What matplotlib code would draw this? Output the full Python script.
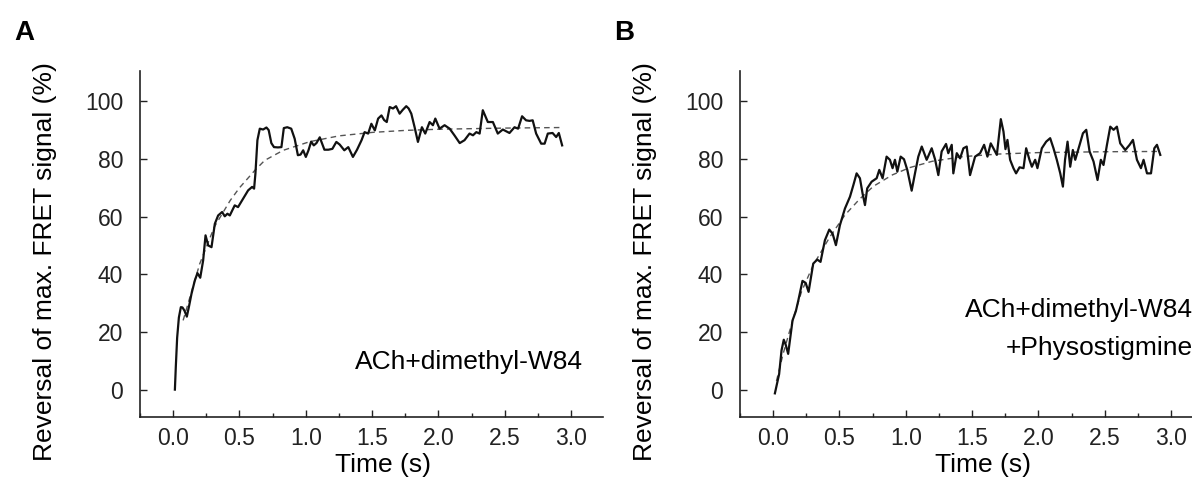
import matplotlib
matplotlib.use("Agg")
import matplotlib.pyplot as plt
from matplotlib.ticker import MultipleLocator

plt.rcParams['font.family'] = ['Liberation Sans', 'DejaVu Sans']

# panel A trace (time in s, signal in %)
a_time = [0.013, 0.02, 0.03, 0.043, 0.058, 0.07, 0.085, 0.103, 0.12, 0.138, 0.163, 0.183, 0.204, 0.226,
          0.244, 0.264, 0.289, 0.314, 0.339, 0.369, 0.389, 0.409, 0.427, 0.464, 0.489, 0.527, 0.565, 0.595,
          0.61, 0.62, 0.635, 0.653, 0.678, 0.703, 0.72, 0.74, 0.76, 0.79, 0.816, 0.834, 0.86, 0.89, 0.916,
          0.94, 0.96, 0.98, 1.0, 1.02, 1.04, 1.06, 1.08, 1.105, 1.14, 1.17, 1.2, 1.23, 1.255, 1.29, 1.32,
          1.355, 1.386, 1.42, 1.443, 1.47, 1.494, 1.52, 1.545, 1.57, 1.59, 1.61, 1.632, 1.657, 1.68, 1.707,
          1.73, 1.757, 1.775, 1.795, 1.82, 1.845, 1.875, 1.9, 1.933, 1.958, 1.976, 2.008, 2.046, 2.084,
          2.12, 2.16, 2.196, 2.234, 2.26, 2.285, 2.31, 2.334, 2.372, 2.41, 2.447, 2.485, 2.535, 2.573, 2.6,
          2.63, 2.66, 2.686, 2.71, 2.736, 2.774, 2.8, 2.824, 2.86, 2.887, 2.907, 2.932]
a_signal = [0, 8, 18, 25, 28.6, 28.5, 27.4, 25.3, 29, 33.2, 37.8, 40.4, 38.8, 44.8,
            53.5, 50, 49.4, 57.5, 60.4, 61.6, 60.1, 61, 60.4, 63.9, 63.3, 66.2, 69.1, 70.3,
            69.7, 74.9, 86.5, 90.5, 90.2, 90.9, 90, 85.5, 84.1, 84, 84.1, 90.7, 91, 90.5, 87,
            81.3, 81.5, 83, 80.7, 83, 86, 84.7, 85.5, 87.5, 83.2, 83.2, 83.5, 85.9, 85, 83, 84.1,
            80.7, 83.2, 86.5, 89.3, 88.8, 92.2, 89.9, 94, 95.1, 93.5, 92.8, 98, 97.5, 98.3, 95.7,
            97, 98.3, 97.5, 95.7, 91, 85.9, 91, 88.8, 92.8, 91.7, 94, 90.5, 91.7, 90.5,
            88.2, 85.5, 86.5, 88.8, 88.2, 89.3, 88.8, 96.9, 92.8, 92.8, 88.8, 90.2, 89, 91, 90.5,
            94.8, 93.4, 93.2, 93.4, 88.8, 85.3, 85.3, 88.8, 89, 87.6, 89, 84.7]

# panel A fit (dashed)
a_fit_time = [0.075, 0.2, 0.31, 0.43, 0.5, 0.615, 0.69, 0.83, 1.03, 1.25, 1.5, 1.75, 2.0, 2.5, 2.94]
a_fit_signal = [24, 43.6, 56.4, 65.6, 70, 76, 79.5, 83, 86, 88, 89.2, 89.9, 90.3, 90.7, 90.9]

# panel B trace
b_time = [0.013, 0.045, 0.063, 0.08, 0.095, 0.113, 0.146, 0.171, 0.19, 0.221, 0.245, 0.267, 0.302, 0.332,
          0.357, 0.39, 0.423, 0.448, 0.473, 0.503, 0.541, 0.579, 0.605, 0.629, 0.654, 0.674, 0.692, 0.709,
          0.742, 0.78, 0.8, 0.825, 0.855, 0.88, 0.9, 0.918, 0.936, 0.961, 0.986, 1.011, 1.044, 1.069,
          1.094, 1.12, 1.157, 1.195, 1.22, 1.245, 1.27, 1.303, 1.32, 1.346, 1.358, 1.384, 1.409, 1.434,
          1.459, 1.484, 1.522, 1.56, 1.59, 1.615, 1.64, 1.66, 1.686, 1.716, 1.736, 1.751, 1.766, 1.786,
          1.811, 1.831, 1.857, 1.887, 1.907, 1.932, 1.95, 1.975, 1.992, 2.025, 2.058, 2.088, 2.113, 2.138,
          2.164, 2.184, 2.2, 2.219, 2.239, 2.259, 2.277, 2.31, 2.335, 2.36, 2.385, 2.415, 2.445, 2.47,
          2.49, 2.516, 2.541, 2.566, 2.591, 2.616, 2.654, 2.687, 2.712, 2.742, 2.772, 2.792, 2.818, 2.848,
          2.873, 2.893, 2.918]
b_signal = [-1.3, 5.4, 13.6, 17.3, 15.5, 12.4, 24, 27.2, 31, 37.7, 37, 33.9, 43.7, 45.1,
            44.3, 51.8, 55.5, 54.1, 50.1, 57, 62.8, 66.9, 71, 75, 73.3, 68, 64, 69.8,
            72.1, 73.3, 76.2, 73.3, 80.8, 79.7, 76.8, 79.7, 75.6, 80.8, 79.9, 76.2, 69, 75,
            80.8, 84.3, 79.7, 83.7, 79.9, 74.4, 82.6, 85.2, 82, 84.9, 75, 82, 80.2, 83.7,
            84.3, 74.4, 80.8, 82, 84.9, 80.8, 85.4, 83.7, 81.4, 93.8, 89.5, 83.4, 86.6, 79.7,
            76.8, 75, 77.1, 76.8, 83.7, 79.7, 77.3, 79.7, 76.8, 83.7, 86, 87.2, 83.7, 79.7,
            75, 70.4, 79.7, 86, 77.3, 83.1, 79.7, 84.9, 88.9, 90.1, 82.6, 79.1, 72.7, 79.7,
            77.9, 84.9, 91.2, 90.1, 91.2, 85.4, 83.1, 84.9, 86.6, 79.7, 76.8, 79.7, 75, 75,
            83.7, 84.9, 81.4]

# panel B fit (dashed)
b_fit_time = [0.025, 0.075, 0.15, 0.214, 0.3, 0.428, 0.54, 0.65, 0.755, 0.9, 1.03, 1.2, 1.43, 1.7, 2.0, 2.5, 2.92]
b_fit_signal = [3, 12.4, 24.5, 34, 43, 53, 60.5, 66, 70.5, 74.5, 77, 79.2, 80.8, 81.7, 82.2, 82.5, 82.6]

x_ticks = [0.0, 0.5, 1.0, 1.5, 2.0, 2.5, 3.0]
y_ticks = [0, 20, 40, 60, 80, 100]

W, H = 1192, 486
fig = plt.figure(figsize=(W / 100, H / 100), dpi=100)

panels = [
    (140, a_time, a_signal, a_fit_time, a_fit_signal, 'A'),
    (740, b_time, b_signal, b_fit_time, b_fit_signal, 'B'),
]

for left, t, s, ft, fs, letter in panels:
    ax = fig.add_axes([left / W, 69 / H, 463 / W, 346 / H])
    ax.plot(ft, fs, color='#555555', lw=1.0, ls=(0, (4, 3)), zorder=2)
    ax.plot(t, s, color='#111111', lw=1.6, solid_joinstyle='round', zorder=3)
    ax.set_xlim(-0.25, 3.24)
    ax.set_ylim(-9.5, 110.5)
    ax.set_xticks(x_ticks)
    ax.set_xticklabels([f'{v:.1f}' for v in x_ticks])
    ax.set_yticks(y_ticks)
    ax.xaxis.set_minor_locator(MultipleLocator(0.25))
    ax.tick_params(axis='both', which='both', direction='in', width=1.0, colors='#222222')
    ax.tick_params(axis='both', which='major', length=5, labelsize=16.5)
    ax.tick_params(axis='x', which='minor', length=3)
    ax.tick_params(axis='x', which='major', pad=7)
    ax.tick_params(axis='y', which='major', pad=12)
    for side in ['top', 'right']:
        ax.spines[side].set_visible(False)
    for side in ['left', 'bottom']:
        ax.spines[side].set_linewidth(1.2)
        ax.spines[side].set_color('#222222')

    fig.text((left - 95) / W, 1 - 262 / H, 'Reversal of max. FRET signal (%)',
             rotation=90, ha='center', va='center', fontsize=19)
    fig.text((left + 243) / W, 1 - 465 / H, 'Time (s)', ha='center', va='center', fontsize=19)
    fig.text((left - 116) / W, 1 - 33 / H, letter, ha='center', va='center',
             fontsize=20, fontweight='bold')

    if letter == 'A':
        ax.text(0.957, 0.159, 'ACh+dimethyl-W84', transform=ax.transAxes,
                ha='right', va='center', fontsize=19)
    else:
        ax.text(0.978, 0.309, 'ACh+dimethyl-W84', transform=ax.transAxes,
                ha='right', va='center', fontsize=19)
        ax.text(0.978, 0.199, '+Physostigmine', transform=ax.transAxes,
                ha='right', va='center', fontsize=19)

fig.savefig('out.png', dpi=100)
